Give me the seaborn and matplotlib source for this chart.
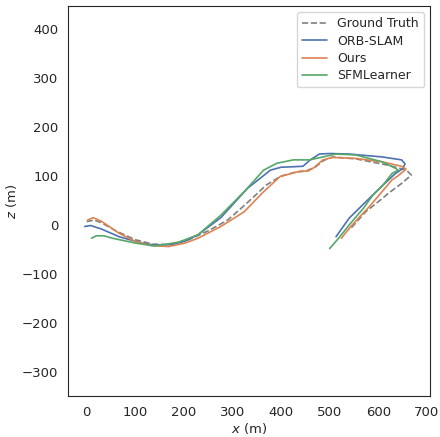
import numpy as np
import pandas as pd
import matplotlib
matplotlib.use("Agg")
import matplotlib.pyplot as plt
import seaborn as sns

# trajectory points (x, z in metres)
gt_x = [0, 15, 30, 60, 100, 135, 170, 210, 250, 290, 330, 370, 400, 430, 450, 470, 488, 506,
        554, 621, 658, 668, 648, 621, 608, 574, 547, 540]
gt_z = [7, 10, 5, -12, -30, -39, -40, -30, -12, 10, 45, 82, 100, 108, 110, 118, 132, 139,
        135, 122, 112, 102, 85, 65, 54, 27, -3, -10]

orb_x = [-4, 8, 30, 67, 114, 140, 175, 202, 229, 276, 331, 378, 400, 425, 445, 460, 479, 500,
         540, 608, 648, 655, 650, 635, 608, 581, 540, 513]
orb_z = [-3, -1, -8, -24, -37, -41, -40, -33, -20, 15, 75, 112, 118, 119, 120, 133, 145, 146,
         145, 139, 133, 125, 115, 105, 80, 54, 14, -24]

ours_x = [2, 13, 30, 67, 101, 134, 168, 202, 229, 276, 324, 364, 398, 439, 455, 466, 486, 506,
          554, 608, 648, 657, 640, 628, 605, 581, 560, 540, 524]
ours_z = [10, 15, 8, -17, -34, -42, -44, -37, -27, -3, 27, 68, 99, 110, 110, 116, 133, 138,
          136, 129, 120, 114, 100, 92, 65, 37, 15, -7, -27]

sfm_x = [10, 20, 35, 53, 101, 140, 189, 229, 276, 324, 364, 391, 425, 459, 486, 513, 554, 608,
         635, 641, 628, 610, 588, 570, 540, 520, 500]
sfm_z = [-27, -22, -22, -27, -37, -43, -35, -20, 20, 68, 112, 126, 133, 133, 139, 145, 143, 129,
         116, 112, 105, 82, 60, 35, 0, -25, -48]

sns.set_style("white")
pal = sns.color_palette("deep")

fig = plt.figure(figsize=(4.4, 4.37), dpi=100)
ax = fig.add_axes([0.155, 0.094, 0.823, 0.892])

sns.lineplot(x=gt_x, y=gt_z, sort=False, estimator=None, ax=ax, color="gray",
             linestyle="--", linewidth=1.2, label="Ground Truth")
sns.lineplot(x=orb_x, y=orb_z, sort=False, estimator=None, ax=ax, color=pal[0],
             linewidth=1.2, label="ORB-SLAM")
sns.lineplot(x=ours_x, y=ours_z, sort=False, estimator=None, ax=ax, color=pal[1],
             linewidth=1.2, label="Ours")
sns.lineplot(x=sfm_x, y=sfm_z, sort=False, estimator=None, ax=ax, color=pal[2],
             linewidth=1.2, label="SFMLearner")

ax.set_xlim(-38, 707)
ax.set_ylim(-349, 447)
ax.set_xticks(range(0, 701, 100))
ax.set_yticks(range(-300, 401, 100))
ax.tick_params(labelsize=9.5)
ax.set_xlabel("$x$ (m)", fontsize=9.5, labelpad=2)
ax.set_ylabel("$z$ (m)", fontsize=9.5, labelpad=2)
ax.legend(loc="upper right", fontsize=9, handlelength=2.0, borderaxespad=0.5,
          labelspacing=0.35)

fig.savefig("out.png", dpi=100)
